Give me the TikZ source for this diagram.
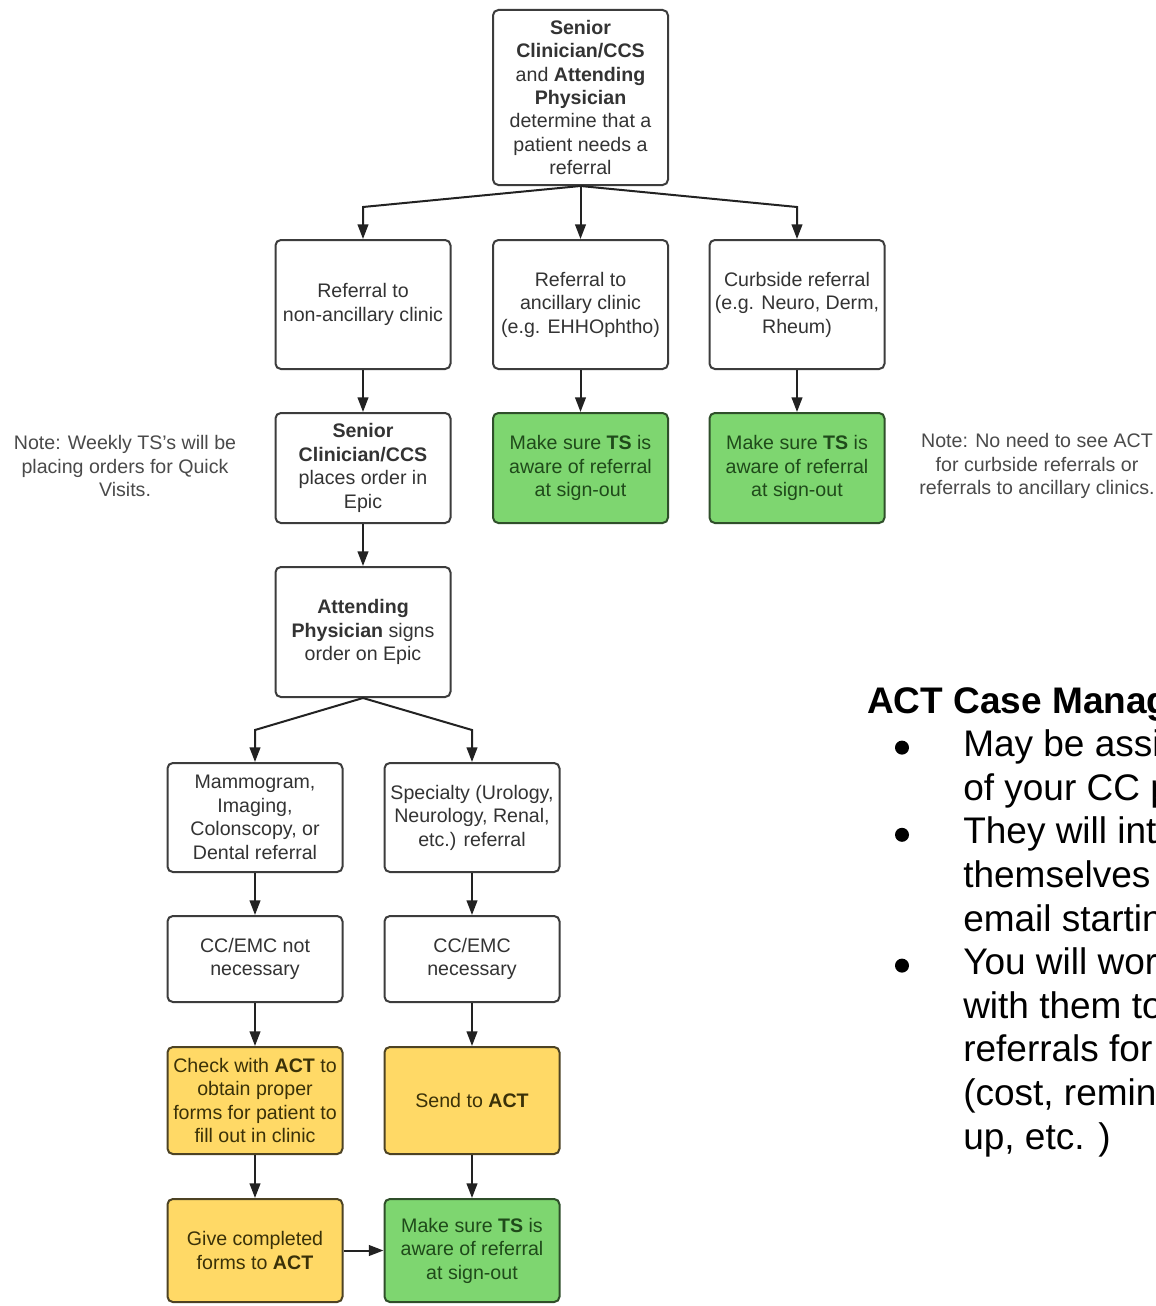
\documentclass[tikz,border=0pt]{standalone}
\usepackage{fontspec}
\setmainfont{Liberation Sans}
\usetikzlibrary{arrows.meta}
\newdimen\pxu \pxu=0.75pt
\newcommand\flowfont{\fontsize{14.7}{17.6}\selectfont}
\newcommand\actfont{\fontsize{27.75}{32.7}\selectfont}
\definecolor{boxline}{HTML}{3C3C3C}
\definecolor{boxtext}{HTML}{333333}
\definecolor{notetext}{HTML}{4A4A4A}
\definecolor{greenfill}{HTML}{7ED670}
\definecolor{greenline}{HTML}{2F4F2A}
\definecolor{greentext}{HTML}{1F4A1A}
\definecolor{yellowfill}{HTML}{FFD966}
\definecolor{yellowline}{HTML}{4D4324}
\definecolor{yellowtext}{HTML}{3A3108}
\definecolor{connector}{HTML}{222222}
\tikzset{
 flowbox/.style={draw=boxline, line width=1.5pt, rounded corners=4pt, fill=white, text=boxtext, align=center, inner sep=0pt, minimum width=175\pxu, font=\flowfont},
 greenbox/.style={flowbox, fill=greenfill, draw=greenline, text=greentext},
 yellowbox/.style={flowbox, fill=yellowfill, draw=yellowline, text=yellowtext},
 note/.style={text=notetext, align=center, font=\flowfont, inner sep=0pt},
 conn/.style={draw=connector, line width=1.5pt, -{Triangle[length=11pt,width=8pt]}},
 actline/.style={anchor=base west, inner sep=0pt, font=\actfont, text=black},
 bulletdot/.style={circle, fill=black, inner sep=0pt, minimum size=14\pxu},
}
\begin{document}
\begin{tikzpicture}[x=0.75pt,y=-0.75pt]
\useasboundingbox (0,0) rectangle (1156,1306);
\clip (0,0) rectangle (1156,1306);
\fill[white] (0,0) rectangle (1156,1306);

% boxes
\node[flowbox, minimum height=175\pxu] (top) at (580.5,97.5) {\textbf{Senior}\\\textbf{Clinician/CCS}\\and \textbf{Attending}\\\textbf{Physician}\\determine that a\\patient needs a\\referral};

\node[flowbox, minimum height=129\pxu] (r2a) at (363,304.5) {Referral to\\non-ancillary clinic};
\node[flowbox, minimum height=129\pxu] (r2b) at (580.5,304.5) {Referral to\\ancillary clinic\\(e.g. EHHOphtho)};
\node[flowbox, minimum height=129\pxu] (r2c) at (797,304.5) {Curbside referral\\(e.g. Neuro, Derm,\\Rheum)};

\node[flowbox, minimum height=110\pxu] (senior) at (363,468) {\textbf{Senior}\\\textbf{Clinician/CCS}\\places order in\\Epic};
\node[greenbox, minimum height=110\pxu] (g1) at (580.5,468) {Make sure \textbf{TS} is\\aware of referral\\at sign-out};
\node[greenbox, minimum height=110\pxu] (g2) at (797,468) {Make sure \textbf{TS} is\\aware of referral\\at sign-out};

\node[flowbox, minimum height=130\pxu] (attend) at (363,632) {\textbf{Attending}\\\textbf{Physician} signs\\order on Epic};

\node[flowbox, minimum height=109\pxu] (mammo) at (255,817.5) {Mammogram,\\Imaging,\\Colonscopy, or\\Dental referral};
\node[flowbox, minimum height=109\pxu] (spec) at (472,817.5) {Specialty (Urology,\\Neurology, Renal,\\etc.) referral};

\node[flowbox, minimum height=86\pxu] (ccnot) at (255,959) {CC/EMC not\\necessary};
\node[flowbox, minimum height=86\pxu] (ccnec) at (472,959) {CC/EMC\\necessary};

\node[yellowbox, minimum height=107\pxu] (check) at (255,1100.5) {Check with \textbf{ACT} to\\obtain proper\\forms for patient to\\fill out in clinic};
\node[yellowbox, minimum height=107\pxu] (send) at (472,1100.5) {Send to \textbf{ACT}};

\node[yellowbox, minimum height=103\pxu] (give) at (255,1250.5) {Give completed\\forms to \textbf{ACT}};
\node[greenbox, minimum height=103\pxu] (g3) at (472,1250.5) {Make sure \textbf{TS} is\\aware of referral\\at sign-out};

% notes
\node[note] (note1) at (125,466) {Note: Weekly TS's will be\\placing orders for Quick\\Visits.};
\node[note] (note2) at (1037,466) {Note: No need to see ACT\\for curbside referrals or\\referrals to ancillary clinics.};

% connectors
\coordinate (k1) at (363,207);
\coordinate (k2) at (797,207);
\draw[conn] (top.south) -- (k1) -- (r2a.north);
\draw[conn] (top.south) -- (r2b.north);
\draw[conn] (top.south) -- (k2) -- (r2c.north);
\draw[conn] (r2a) -- (senior);
\draw[conn] (r2b) -- (g1);
\draw[conn] (r2c) -- (g2);
\draw[conn] (senior) -- (attend);
\coordinate (k3) at (255,730);
\coordinate (k4) at (472,730);
\draw[conn] (attend.south) -- (k3) -- (mammo.north);
\draw[conn] (attend.south) -- (k4) -- (spec.north);
\draw[conn] (mammo) -- (ccnot);
\draw[conn] (spec) -- (ccnec);
\draw[conn] (ccnot) -- (check);
\draw[conn] (ccnec) -- (send);
\draw[conn] (check) -- (give);
\draw[conn] (send) -- (g3);
\draw[conn] (give) -- (g3);

% ACT case managers text
\node[actline, font=\actfont\bfseries] (acttitle) at (867,713) {ACT Case Manage};
\node[actline] (l1) at (963,756.6) {May be assig};
\node[actline] (l2) at (963,800.2) {of your CC pa};
\node[actline] (l3) at (963,843.8) {They will intr};
\node[actline] (l4) at (963,887.4) {themselves};
\node[actline] (l5) at (963,931.0) {email starting};
\node[actline] (l6) at (963,974.6) {You will work};
\node[actline] (l7) at (963,1018.2) {with them to};
\node[actline] (l8) at (963,1061.8) {referrals for};
\node[actline] (l9) at (963,1105.4) {(cost, remind};
\node[actline] (l10) at (963,1149.0) {up, etc. )};
\node[bulletdot] (b1) at (902,747.6) {};
\node[bulletdot] (b2) at (902,834.8) {};
\node[bulletdot] (b3) at (902,965.6) {};
\end{tikzpicture}
\end{document}
